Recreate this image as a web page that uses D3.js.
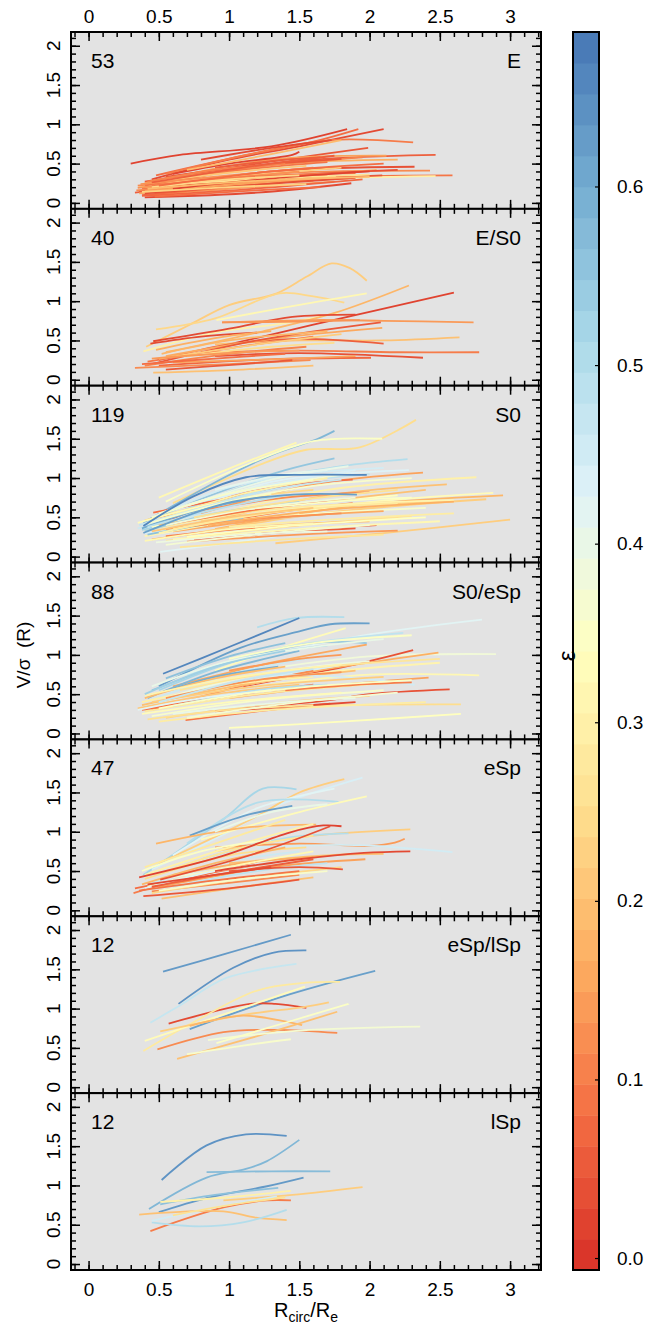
<!DOCTYPE html>
<html>
<head>
<meta charset="utf-8">
<script src="https://cdn.jsdelivr.net/npm/d3@7"></script>
<style>
  body { margin: 0; background: #fff; }
  text { font-family: "Liberation Sans", Arial, Helvetica, sans-serif; fill: #000; }
</style>
</head>
<body>
<div id="chart"></div>
<script>
// panel categories and galaxy counts
var panelTypes = ["E", "E/S0", "S0", "S0/eSp", "eSp", "eSp/lSp", "lSp"];
var panelCounts = ["53", "40", "119", "88", "47", "12", "12"];
var xTicks = [0, 0.5, 1, 1.5, 2, 2.5, 3];
var xTickLabels = ["0", "0.5", "1", "1.5", "2", "2.5", "3"];
var yTicks = [0, 0.5, 1, 1.5, 2];
var yTickLabels = ["0", "0.5", "1", "1.5", "2"];
var epsTicks = [0, 0.1, 0.2, 0.3, 0.4, 0.5, 0.6];

// each profile: [eps, x0, y0, x1, y1, ...]  (R/Re, V/sigma)
var eLines = [
  [0.02, 0.30,0.50, 0.65,0.61, 1.3,0.72, 1.84,0.94],
  [0.03, 0.45,0.30, 1.0,0.55, 1.5,0.72, 2.10,0.94],
  [0.08, 0.48,0.35, 1.1,0.60, 1.6,0.78, 1.92,0.94],
  [0.10, 0.55,0.37, 1.2,0.64, 1.72,0.80, 2.31,0.77],
  [0.05, 0.40,0.27, 1.2,0.50, 1.99,0.70],
  [0.06, 0.42,0.20, 1.4,0.52, 2.47,0.61],
  [0.15, 0.40,0.25, 1.3,0.55, 2.12,0.60],
  [0.04, 0.36,0.15, 1.3,0.40, 2.32,0.46],
  [0.12, 0.35,0.22, 1.4,0.38, 2.43,0.41],
  [0.09, 0.38,0.18, 1.5,0.32, 2.59,0.35],
  [0.30, 0.55,0.20, 1.5,0.30, 2.47,0.34],
  [0.03, 0.40,0.07, 1.2,0.13, 1.87,0.25],
  [0.17, 0.45,0.28, 1.4,0.50, 2.20,0.55],
  [0.05, 0.50,0.12, 1.3,0.28, 2.09,0.35],
  [0.20, 0.36,0.20, 1.0,0.27, 1.76,0.33],
  [0.02, 0.60,0.37, 1.0,0.50, 1.45,0.61, 1.50,0.65],
  [0.14, 0.42,0.10, 1.0,0.18, 1.75,0.27],
  [0.07, 0.38,0.09, 1.1,0.17, 1.95,0.30],
  [0.18, 0.46,0.16, 1.2,0.30, 2.05,0.42],
  [0.11, 0.52,0.30, 1.3,0.48, 1.95,0.58],
  [0.06, 0.33,0.13, 1.0,0.26, 1.70,0.35],
  [0.22, 0.44,0.25, 1.2,0.36, 1.80,0.45],
  [0.09, 0.40,0.22, 1.1,0.42, 1.70,0.52],
  [0.04, 0.43,0.17, 1.2,0.32, 2.20,0.42],
  [0.16, 0.36,0.12, 1.0,0.22, 1.60,0.28],
  [0.13, 0.35,0.19, 0.9,0.30, 1.50,0.40],
  [0.26, 0.60,0.24, 1.4,0.32, 2.00,0.36],
  [0.08, 0.47,0.08, 1.1,0.15, 1.65,0.20],
  [0.19, 0.70,0.42, 1.3,0.62, 1.80,0.80],
  [0.05, 0.55,0.33, 1.15,0.47, 1.80,0.56],
  [0.12, 0.34,0.16, 0.9,0.24, 1.40,0.30],
  [0.03, 0.80,0.55, 1.3,0.70, 1.73,0.80],
  [0.10, 0.45,0.22, 1.2,0.34, 1.90,0.38],
  [0.21, 0.50,0.28, 1.2,0.42, 1.55,0.47],
  [0.07, 0.38,0.10, 1.0,0.20, 1.35,0.25],
  [0.15, 0.40,0.15, 1.1,0.25, 1.85,0.31],
  [0.02, 0.60,0.18, 1.3,0.31, 2.00,0.40],
  [0.24, 0.45,0.20, 1.0,0.30, 1.50,0.35],
  [0.06, 0.90,0.45, 1.4,0.55, 1.65,0.58],
  [0.11, 0.42,0.27, 0.9,0.42, 1.40,0.50],
  [0.13, 0.37,0.24, 1.0,0.35, 1.60,0.45],
  [0.04, 0.40,0.12, 1.1,0.22, 1.90,0.32],
  [0.19, 0.42,0.18, 1.2,0.28, 2.00,0.33],
  [0.08, 0.50,0.22, 1.3,0.40, 2.10,0.50],
  [0.23, 0.38,0.14, 1.0,0.20, 1.55,0.24],
  [0.06, 0.45,0.26, 1.1,0.45, 1.75,0.60]
];

var es0Lines = [
  [0.22, 0.41,0.42, 0.72,0.70, 1.0,0.95, 1.34,1.10, 1.55,1.31, 1.73,1.48, 1.86,1.42, 1.98,1.26],
  [0.24, 0.48,0.64, 0.9,0.78, 1.36,1.10, 1.60,1.06, 1.82,0.98],
  [0.32, 0.91,0.76, 1.4,0.92, 1.98,1.10],
  [0.30, 0.39,0.36, 0.9,0.60, 1.4,0.72, 1.78,0.85],
  [0.18, 0.55,0.35, 1.2,0.60, 1.75,0.85, 2.28,1.20],
  [0.03, 0.46,0.49, 1.0,0.65, 1.45,0.80, 1.90,0.83],
  [0.02, 1.0,0.45, 1.6,0.70, 2.60,1.11],
  [0.14, 0.95,0.73, 1.6,0.76, 2.1,0.75, 2.74,0.73],
  [0.20, 0.90,0.45, 1.5,0.50, 2.1,0.50, 2.64,0.54],
  [0.10, 0.80,0.35, 1.5,0.37, 2.2,0.35, 2.78,0.35],
  [0.04, 0.90,0.30, 1.5,0.34, 2.38,0.28],
  [0.06, 0.50,0.25, 1.0,0.45, 1.5,0.52, 1.8,0.50, 2.10,0.46],
  [0.16, 0.55,0.30, 1.3,0.52, 2.09,0.66],
  [0.05, 0.45,0.20, 1.2,0.50, 2.08,0.73],
  [0.13, 0.95,0.73, 1.5,0.74, 1.93,0.76],
  [0.07, 0.50,0.18, 1.3,0.26, 2.01,0.28],
  [0.15, 0.60,0.22, 1.3,0.26, 1.90,0.30],
  [0.12, 0.33,0.15, 1.0,0.20, 1.58,0.25],
  [0.20, 0.46,0.09, 1.1,0.13, 1.60,0.18],
  [0.09, 0.42,0.23, 1.0,0.40, 1.60,0.55],
  [0.03, 0.44,0.46, 0.8,0.55, 1.20,0.60],
  [0.18, 0.52,0.33, 1.0,0.50, 1.70,0.62],
  [0.11, 0.40,0.18, 1.0,0.33, 1.55,0.42],
  [0.22, 0.50,0.27, 1.2,0.45, 1.80,0.58],
  [0.08, 0.38,0.20, 0.9,0.27, 1.40,0.33],
  [0.25, 0.70,0.30, 1.3,0.42, 1.75,0.47],
  [0.14, 0.45,0.27, 1.1,0.35, 1.50,0.37],
  [0.05, 0.55,0.13, 1.1,0.20, 1.45,0.25],
  [0.17, 0.48,0.38, 0.9,0.53, 1.30,0.62]
];

var s0Lines = [
  [0.25, 0.60,0.68, 1.22,1.17, 1.55,1.36, 1.93,1.39, 2.33,1.74],
  [0.58, 0.39,0.43, 0.98,1.02, 1.34,1.32, 1.62,1.49, 1.75,1.60],
  [0.35, 0.55,0.70, 1.1,1.15, 1.6,1.47, 2.09,1.50],
  [0.32, 0.50,0.75, 1.0,1.12, 1.48,1.45],
  [0.50, 0.50,0.45, 1.2,0.95, 1.8,1.15, 2.27,1.24],
  [0.43, 0.60,0.50, 1.3,0.95, 2.28,1.10],
  [0.15, 0.80,0.55, 1.6,0.92, 2.38,1.07],
  [0.30, 0.70,0.45, 1.7,0.85, 2.76,1.01],
  [0.20, 0.80,0.42, 1.7,0.78, 2.55,0.92],
  [0.33, 0.80,0.30, 1.8,0.65, 2.88,0.81],
  [0.18, 0.90,0.35, 1.9,0.65, 2.95,0.78],
  [0.22, 0.70,0.28, 1.7,0.56, 2.83,0.73],
  [0.22, 1.33,0.17, 2.1,0.30, 3.00,0.47],
  [0.03, 0.99,0.24, 1.5,0.34, 2.05,0.40],
  [0.08, 0.46,0.56, 1.1,0.78, 1.5,0.92, 1.88,0.98],
  [0.06, 0.46,0.38, 1.03,0.77, 1.46,0.92],
  [0.10, 0.72,0.36, 1.3,0.55, 1.88,0.68],
  [0.42, 0.51,0.06, 0.9,0.15, 1.34,0.26],
  [0.12, 0.48,0.50, 0.9,0.62, 1.4,0.75, 2.00,0.82],
  [0.28, 0.40,0.33, 1.2,0.58, 2.20,0.70],
  [0.36, 0.45,0.28, 1.3,0.50, 2.40,0.62],
  [0.40, 0.38,0.35, 1.0,0.55, 1.70,0.70],
  [0.26, 0.55,0.20, 1.4,0.38, 2.30,0.52],
  [0.32, 0.60,0.22, 1.5,0.35, 2.50,0.45],
  [0.14, 0.70,0.19, 1.5,0.28, 2.20,0.33],
  [0.18, 0.45,0.22, 1.2,0.38, 2.00,0.45],
  [0.05, 0.75,0.22, 1.3,0.30, 1.90,0.36],
  [0.48, 0.40,0.40, 0.9,0.68, 1.5,0.95, 2.00,1.05],
  [0.55, 0.42,0.45, 0.9,0.80, 1.4,1.10, 1.75,1.25],
  [0.45, 0.45,0.50, 1.0,0.88, 1.5,1.05, 2.10,1.13],
  [0.38, 0.50,0.55, 1.1,0.85, 1.85,1.05],
  [0.30, 0.52,0.48, 1.1,0.80, 1.70,1.00],
  [0.24, 0.40,0.46, 1.0,0.72, 1.60,0.85],
  [0.52, 0.38,0.34, 0.8,0.50, 1.3,0.65, 1.90,0.72],
  [0.34, 0.45,0.38, 1.2,0.62, 2.20,0.78],
  [0.20, 0.50,0.40, 1.3,0.62, 2.40,0.85],
  [0.44, 0.40,0.30, 1.1,0.45, 1.80,0.55],
  [0.16, 0.60,0.32, 1.4,0.50, 2.10,0.58],
  [0.37, 0.55,0.15, 1.3,0.30, 2.00,0.40],
  [0.27, 0.65,0.12, 1.4,0.22, 2.10,0.28],
  [0.09, 0.60,0.42, 1.2,0.60, 1.70,0.70],
  [0.40, 0.70,0.65, 1.3,0.98, 1.85,1.15],
  [0.31, 0.40,0.26, 1.0,0.45, 1.50,0.55],
  [0.46, 0.35,0.36, 0.7,0.50, 1.20,0.62],
  [0.56, 0.42,0.28, 0.8,0.40, 1.10,0.48],
  [0.13, 0.55,0.35, 1.2,0.48, 1.80,0.55],
  [0.33, 0.35,0.43, 0.8,0.64, 1.30,0.80],
  [0.23, 0.80,0.45, 1.6,0.62, 2.50,0.70],
  [0.39, 0.48,0.18, 1.1,0.28, 1.70,0.32],
  [0.29, 1.00,0.38, 1.8,0.48, 2.60,0.55],
  [0.11, 0.55,0.26, 1.0,0.34, 1.50,0.40],
  [0.41, 0.90,0.85, 1.4,1.05, 1.70,1.10],
  [0.35, 1.10,0.60, 1.9,0.72, 2.30,0.75],
  [0.60, 0.38,0.36, 0.7,0.55, 1.10,0.72],
  [0.47, 0.36,0.40, 0.8,0.62, 1.3,0.85, 1.80,0.98],
  [0.53, 0.40,0.32, 0.9,0.55, 1.50,0.70],
  [0.36, 0.42,0.42, 1.0,0.70, 1.6,0.90, 2.30,1.00],
  [0.31, 0.50,0.30, 1.2,0.55, 2.0,0.68, 2.60,0.72],
  [0.28, 0.60,0.35, 1.4,0.58, 2.20,0.68],
  [0.34, 0.70,0.25, 1.5,0.40, 2.40,0.50],
  [0.21, 0.45,0.32, 1.0,0.50, 1.60,0.62],
  [0.38, 0.55,0.40, 1.2,0.62, 1.90,0.75],
  [0.26, 0.75,0.50, 1.5,0.72, 2.20,0.85],
  [0.44, 0.60,0.60, 1.2,0.88, 1.90,1.10],
  [0.32, 0.40,0.20, 1.0,0.35, 1.60,0.42],
  [0.17, 0.85,0.40, 1.6,0.58, 2.60,0.70],
  [0.36, 0.45,0.50, 1.0,0.80, 1.60,0.98],
  [0.49, 0.42,0.38, 0.9,0.60, 1.40,0.78],
  [0.66, 0.39,0.39, 0.75,0.77, 1.12,1.01, 1.46,1.04, 1.98,1.04],
  [0.62, 0.39,0.30, 0.98,0.68, 1.46,0.79, 1.91,0.79]
];

var s0eSpLines = [
  [0.62, 0.50,0.60, 1.08,1.09, 1.5,1.30, 1.72,1.39, 2.00,1.40],
  [0.50, 1.20,1.35, 1.48,1.47, 1.82,1.48],
  [0.42, 1.00,0.90, 2.0,1.26, 2.80,1.45],
  [0.38, 1.20,0.80, 2.0,0.98, 2.90,1.01],
  [0.32, 1.20,0.60, 2.0,0.75, 2.78,0.74],
  [0.04, 1.10,0.60, 1.9,0.88, 2.31,1.06],
  [0.17, 1.00,0.60, 1.8,0.85, 2.49,1.03],
  [0.31, 0.90,0.55, 1.7,0.78, 2.50,0.90],
  [0.15, 1.00,0.45, 1.8,0.62, 2.42,0.71],
  [0.04, 0.84,0.28, 1.7,0.42, 2.0,0.50, 2.57,0.56],
  [0.09, 0.69,0.17, 1.2,0.28, 1.72,0.38],
  [0.34, 1.00,0.07, 1.8,0.15, 2.65,0.25],
  [0.25, 1.00,0.30, 1.8,0.36, 2.65,0.37],
  [0.16, 0.60,0.60, 1.3,0.90, 1.98,1.13],
  [0.33, 0.90,0.80, 1.3,1.05, 1.83,1.34],
  [0.48, 0.70,0.75, 1.4,1.10, 2.24,1.28],
  [0.55, 0.45,0.55, 1.0,0.90, 1.6,1.15, 1.98,1.15],
  [0.46, 0.40,0.40, 1.0,0.75, 1.70,1.00],
  [0.58, 0.42,0.45, 0.9,0.78, 1.50,1.05],
  [0.52, 0.50,0.55, 1.1,0.95, 1.70,1.12],
  [0.44, 0.40,0.35, 1.1,0.65, 1.90,0.90],
  [0.12, 0.45,0.30, 1.2,0.65, 1.60,0.80],
  [0.20, 0.38,0.36, 1.1,0.62, 1.90,0.80],
  [0.28, 0.40,0.28, 1.2,0.50, 2.20,0.65],
  [0.36, 0.45,0.22, 1.2,0.42, 2.10,0.55],
  [0.08, 0.38,0.30, 1.0,0.48, 1.60,0.62],
  [0.23, 0.55,0.20, 1.3,0.38, 2.00,0.48],
  [0.40, 0.60,0.25, 1.4,0.40, 1.90,0.45],
  [0.30, 0.38,0.40, 1.0,0.62, 1.60,0.72],
  [0.45, 1.20,0.75, 1.8,0.72, 2.32,0.62],
  [0.21, 0.35,0.32, 0.9,0.50, 1.50,0.62],
  [0.03, 0.90,0.28, 1.5,0.35, 1.90,0.40],
  [0.26, 0.42,0.18, 1.0,0.30, 1.60,0.36],
  [0.56, 0.55,0.70, 1.0,0.98, 1.40,1.15],
  [0.39, 0.55,0.45, 1.2,0.75, 2.00,0.92],
  [0.14, 1.00,0.80, 1.5,0.95, 1.80,1.00],
  [0.33, 0.38,0.25, 1.0,0.40, 1.80,0.52],
  [0.60, 0.48,0.50, 0.9,0.72, 1.35,0.85],
  [0.27, 0.65,0.55, 1.4,0.80, 2.50,0.95],
  [0.19, 0.40,0.45, 0.9,0.70, 1.40,0.85],
  [0.10, 1.40,0.55, 1.9,0.62, 2.30,0.65],
  [0.50, 0.60,0.35, 1.2,0.55, 1.70,0.62],
  [0.35, 1.00,0.95, 1.6,1.15, 2.30,1.25],
  [0.42, 0.35,0.30, 0.8,0.45, 1.30,0.55],
  [0.29, 0.50,0.15, 1.3,0.30, 2.40,0.40],
  [0.40, 0.45,0.60, 1.0,0.92, 1.6,1.10, 2.10,1.20],
  [0.31, 0.40,0.48, 1.0,0.70, 1.80,0.88],
  [0.22, 0.45,0.40, 1.2,0.60, 2.10,0.72],
  [0.35, 0.50,0.32, 1.3,0.55, 2.30,0.68],
  [0.53, 0.40,0.50, 0.9,0.85, 1.40,1.05],
  [0.13, 0.55,0.45, 1.2,0.68, 1.80,0.78],
  [0.37, 0.70,0.20, 1.5,0.40, 2.20,0.52],
  [0.47, 0.50,0.40, 1.1,0.68, 1.60,0.82],
  [0.66, 0.53,0.76, 1.0,1.10, 1.50,1.47]
];

var eSpLines = [
  [0.52, 0.39,0.45, 0.96,1.16, 1.24,1.55, 1.48,1.54],
  [0.44, 0.45,0.52, 1.0,1.00, 1.34,1.33, 1.95,1.69],
  [0.22, 0.50,0.60, 1.2,1.20, 1.5,1.50, 1.82,1.67],
  [0.42, 0.60,0.70, 1.2,1.30, 1.75,1.55],
  [0.50, 0.70,0.85, 1.2,1.37, 1.78,1.38],
  [0.33, 0.80,0.90, 1.5,1.25, 1.98,1.45],
  [0.62, 0.72,0.95, 1.1,1.20, 1.45,1.33],
  [0.18, 0.48,0.85, 1.1,1.05, 1.62,1.09],
  [0.22, 0.90,0.75, 1.6,0.95, 2.29,1.03],
  [0.14, 0.90,0.80, 1.5,0.85, 2.0,0.82, 2.18,0.86, 2.25,0.91],
  [0.45, 1.20,0.80, 1.9,0.83, 2.59,0.74],
  [0.50, 0.80,0.65, 1.4,0.92, 1.85,0.98],
  [0.15, 0.50,0.30, 1.3,0.55, 1.97,0.65],
  [0.20, 0.52,0.15, 1.1,0.30, 1.60,0.42],
  [0.10, 0.32,0.22, 0.8,0.45, 1.30,0.60],
  [0.28, 0.40,0.55, 0.9,0.85, 1.40,1.15],
  [0.30, 0.40,0.45, 1.0,0.80, 1.60,1.10],
  [0.46, 0.45,0.35, 1.0,0.62, 1.50,0.75],
  [0.08, 0.33,0.28, 0.8,0.45, 1.20,0.62],
  [0.25, 0.40,0.40, 1.0,0.70, 1.55,0.80],
  [0.38, 0.50,0.40, 1.1,0.55, 1.70,0.70],
  [0.12, 0.45,0.24, 1.0,0.35, 1.50,0.45],
  [0.48, 0.60,0.30, 1.2,0.50, 1.70,0.60],
  [0.20, 1.00,0.60, 1.7,0.70, 2.10,0.72],
  [0.35, 0.38,0.50, 0.8,0.75, 1.30,0.90],
  [0.17, 0.60,0.45, 1.1,0.60, 1.60,0.68],
  [0.40, 0.90,1.00, 1.3,1.25, 1.70,1.35],
  [0.24, 0.45,0.22, 1.1,0.40, 1.80,0.55],
  [0.32, 0.42,0.30, 1.0,0.55, 1.60,0.75],
  [0.18, 0.38,0.33, 0.9,0.60, 1.40,0.80],
  [0.43, 0.40,0.28, 0.9,0.50, 1.40,0.62],
  [0.06, 0.45,0.30, 1.0,0.48, 1.60,0.65],
  [0.27, 0.55,0.50, 1.1,0.80, 1.60,0.95],
  [0.09, 0.36,0.25, 0.9,0.38, 1.50,0.50],
  [0.36, 0.50,0.25, 1.1,0.40, 1.70,0.50],
  [0.02, 0.36,0.42, 0.95,0.69, 1.43,0.99, 1.67,1.08, 1.80,1.07],
  [0.04, 0.51,0.39, 1.2,0.73, 1.72,1.07],
  [0.03, 0.90,0.50, 1.5,0.65, 1.96,0.73, 2.29,0.75],
  [0.05, 1.00,0.50, 1.5,0.55, 1.81,0.52],
  [0.05, 0.39,0.18, 1.0,0.28, 1.50,0.39],
  [0.03, 0.42,0.33, 0.9,0.45, 1.30,0.55]
];

var eSpLSpLines = [
  [0.63, 0.53,1.47, 0.96,1.69, 1.44,1.94],
  [0.64, 0.64,1.06, 1.03,1.52, 1.31,1.71, 1.55,1.74],
  [0.47, 0.44,0.82, 0.65,1.04, 0.98,1.39, 1.48,1.57],
  [0.62, 0.72,0.74, 1.43,1.18, 2.04,1.48],
  [0.03, 0.57,0.81, 1.15,1.06, 1.33,1.06, 1.55,1.01],
  [0.28, 0.39,0.46, 0.72,0.80, 1.2,1.23, 1.55,1.33, 1.79,1.34],
  [0.33, 0.40,0.59, 1.00,0.95, 1.54,1.28],
  [0.22, 0.51,0.71, 1.1,0.92, 1.53,1.02, 1.71,1.08],
  [0.18, 0.72,0.78, 1.1,0.91, 1.52,0.79],
  [0.12, 0.49,0.48, 0.96,0.70, 1.34,0.73, 1.77,0.69],
  [0.20, 0.63,0.36, 1.2,0.65, 1.77,0.96],
  [0.36, 0.70,0.42, 1.1,0.53, 1.44,0.61],
  [0.37, 0.85,0.60, 1.5,0.72, 2.36,0.77],
  [0.35, 0.91,0.56, 1.4,0.82, 1.85,1.06]
];

var lSpLines = [
  [0.64, 0.52,1.07, 0.84,1.51, 1.12,1.65, 1.41,1.63],
  [0.58, 0.43,0.70, 0.84,1.10, 1.12,1.21, 1.27,1.31, 1.50,1.58],
  [0.57, 0.84,1.17, 1.3,1.18, 1.72,1.18],
  [0.63, 0.50,0.66, 0.84,0.84, 1.27,0.99, 1.53,1.10],
  [0.56, 0.51,0.76, 0.9,0.88, 1.35,0.97],
  [0.30, 0.51,0.79, 1.0,0.85, 1.44,0.93],
  [0.22, 0.96,0.81, 1.45,0.88, 1.95,0.98],
  [0.10, 0.44,0.42, 0.96,0.72, 1.27,0.81, 1.44,0.81],
  [0.20, 0.36,0.63, 0.96,0.67, 1.19,0.59, 1.41,0.56],
  [0.50, 0.45,0.53, 0.79,0.48, 1.1,0.53, 1.41,0.69],
  [0.45, 0.45,0.55, 0.9,0.72, 1.34,0.86],
  [0.26, 0.60,0.62, 1.0,0.75, 1.40,0.85]
];

var panelLines = [eLines, es0Lines, s0Lines, s0eSpLines, eSpLines, eSpLSpLines, lSpLines];

var width = 646, height = 1325;
var plotLeft = 71, plotRight = 541, plotTop = 32, plotBottom = 1270;
var panelH = (plotBottom - plotTop) / panelTypes.length;

var svg = d3.select("#chart").append("svg")
    .attr("width", width)
    .attr("height", height);

var x = d3.scaleLinear().domain([-0.125, 3.22]).range([plotLeft, plotRight]);

var epsDomain = [-0.0067, 0.6865];
var palette = ["#d73027","#f46d43","#fdae61","#fee090","#ffffbf","#e0f3f8","#abd9e9","#74add1","#4575b4"];
var color = d3.scaleSequential(d3.piecewise(d3.interpolateRgb, palette)).domain(epsDomain);

var xMinor = d3.range(-0.1, 3.21, 0.1).map(function(v) { return Math.round(v * 10) / 10; });
var yMinor = d3.range(0, 2.11, 0.1).map(function(v) { return Math.round(v * 10) / 10; });

function styleAxis(g) {
    g.select(".domain").remove();
    g.selectAll("line").attr("stroke", "#000").attr("stroke-width", 1.5);
}

panelTypes.forEach(function(type, i) {
    var top = plotTop + i * panelH;
    var y = d3.scaleLinear().domain([-0.076, 2.175]).range([top + panelH, top]);
    var g = svg.append("g");

    g.append("rect")
        .attr("x", plotLeft).attr("y", top)
        .attr("width", plotRight - plotLeft).attr("height", panelH)
        .attr("fill", "#e3e3e3");

    var line = d3.line()
        .x(function(d) { return x(d[0]); })
        .y(function(d) { return y(d[1]); })
        .curve(d3.curveCatmullRom.alpha(0.5));

    g.selectAll("path.prof")
        .data(panelLines[i])
        .enter().append("path")
        .attr("class", "prof")
        .attr("fill", "none")
        .attr("stroke-width", 1.8)
        .attr("stroke", function(d) { return color(d[0]); })
        .attr("d", function(d) {
            var pts = [];
            for (var k = 1; k < d.length; k += 2) pts.push([d[k], d[k + 1]]);
            return line(pts);
        });

    // inward ticks on all four sides
    [[d3.axisBottom, top + panelH, "x"], [d3.axisTop, top, "x"],
     [d3.axisLeft, plotLeft, "y"], [d3.axisRight, plotRight, "y"]].forEach(function(a) {
        var sc = a[2] === "x" ? x : y;
        var major = a[2] === "x" ? xTicks : yTicks;
        var minor = a[2] === "x" ? xMinor : yMinor;
        var tr = a[2] === "x" ? "translate(0," + a[1] + ")" : "translate(" + a[1] + ",0)";
        g.append("g").attr("transform", tr)
            .call(a[0](sc).tickValues(minor).tickSize(-5).tickFormat(""))
            .call(styleAxis);
        g.append("g").attr("transform", tr)
            .call(a[0](sc).tickValues(major).tickSize(-9).tickFormat(""))
            .call(styleAxis);
    });

    g.append("rect")
        .attr("x", plotLeft).attr("y", top)
        .attr("width", plotRight - plotLeft).attr("height", panelH)
        .attr("fill", "none").attr("stroke", "#000").attr("stroke-width", 2);

    // rotated y tick labels
    g.selectAll("text.ylab")
        .data(yTicks)
        .enter().append("text")
        .attr("class", "ylab")
        .attr("transform", function(d) { return "translate(60," + y(d) + ") rotate(-90)"; })
        .attr("text-anchor", "middle")
        .style("font-size", "19px")
        .text(function(d, j) { return yTickLabels[j]; });

    g.append("text")
        .attr("x", 91).attr("y", top + 36)
        .style("font-size", "21px")
        .text(panelCounts[i]);

    g.append("text")
        .attr("x", 521).attr("y", top + 36)
        .attr("text-anchor", "end")
        .style("font-size", "21px")
        .text(type);

    if (i === 0) {
        var ta = g.append("g").attr("transform", "translate(0," + top + ")")
            .call(d3.axisTop(x).tickValues(xTicks).tickSize(0).tickPadding(9)
                .tickFormat(function(d, j) { return xTickLabels[j]; }));
        ta.select(".domain").remove();
        ta.selectAll("text").style("font-size", "19px").attr("font-family", null);
    }
    if (i === panelTypes.length - 1) {
        var ba = g.append("g").attr("transform", "translate(0," + (top + panelH) + ")")
            .call(d3.axisBottom(x).tickValues(xTicks).tickSize(0).tickPadding(13)
                .tickFormat(function(d, j) { return xTickLabels[j]; }));
        ba.select(".domain").remove();
        ba.selectAll("text").style("font-size", "19px").attr("font-family", null);
    }
});

// axis titles
var xt = svg.append("text")
    .attr("x", (plotLeft + plotRight) / 2).attr("y", 1317)
    .attr("text-anchor", "middle")
    .style("font-size", "20px");
xt.append("tspan").text("R");
xt.append("tspan").attr("dy", 5).style("font-size", "14px").text("circ");
xt.append("tspan").attr("dy", -5).text("/R");
xt.append("tspan").attr("dy", 5).style("font-size", "14px").text("e");

svg.append("text")
    .attr("transform", "translate(30," + ((plotTop + plotBottom) / 2 + 4) + ") rotate(-90)")
    .attr("text-anchor", "middle")
    .style("font-size", "19px")
    .style("white-space", "pre")
    .text("V/\u03c3  (R)");

// colour bar
var cbLeft = 573, cbRight = 599;
var cbY = d3.scaleLinear().domain(epsDomain).range([plotBottom, plotTop]);
var nBands = 40;
var step = (epsDomain[1] - epsDomain[0]) / nBands;
var bands = d3.range(nBands).map(function(k) { return epsDomain[0] + k * step; });

svg.append("g").selectAll("rect")
    .data(bands)
    .enter().append("rect")
    .attr("x", cbLeft)
    .attr("y", function(d) { return cbY(d + step); })
    .attr("width", cbRight - cbLeft)
    .attr("height", function(d) { return cbY(d) - cbY(d + step) + 0.5; })
    .attr("fill", function(d) { return color(d + step / 2); });

var cba = svg.append("g").attr("transform", "translate(" + cbRight + ",0)")
    .call(d3.axisRight(cbY).tickValues(epsTicks).tickSizeInner(-4).tickSizeOuter(0).tickPadding(18)
        .tickFormat(d3.format(".1f")));
cba.select(".domain").remove();
cba.selectAll("line").attr("stroke", "#000").attr("stroke-width", 1.2);
cba.selectAll("text").style("font-size", "19px").attr("font-family", null);

svg.append("rect")
    .attr("x", cbLeft).attr("y", plotTop)
    .attr("width", cbRight - cbLeft).attr("height", plotBottom - plotTop)
    .attr("fill", "none").attr("stroke", "#000").attr("stroke-width", 2);

svg.append("text")
    .attr("transform", "translate(575,656) rotate(-90)")
    .attr("text-anchor", "middle")
    .style("font-size", "24px")
    .text("\u03b5");
</script>
</body>
</html>
